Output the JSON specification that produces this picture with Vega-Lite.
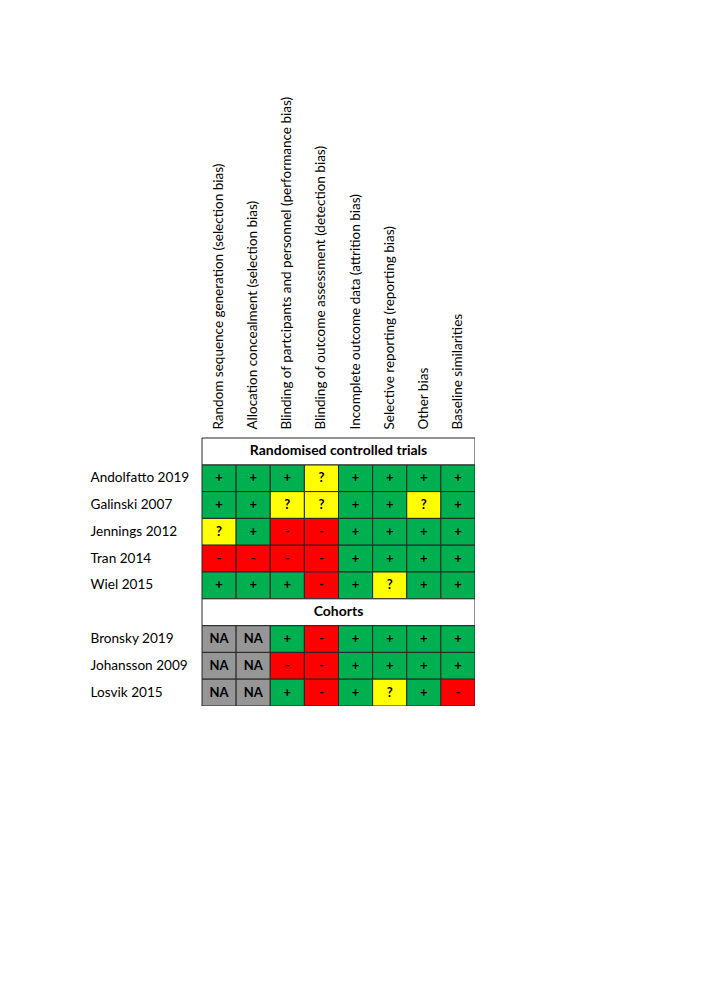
{
  "$schema": "https://vega.github.io/schema/vega-lite/v6.json",
  "width": 273,
  "height": 268,
  "autosize": {"type": "none"},
  "padding": {"left": 202, "top": 438, "right": 0, "bottom": 0},
  "background": "white",
  "config": {"view": {"stroke": null}, "font": "Lato"},
  "datasets": {
    "cells": [
      {"study": "Andolfatto 2019", "domain": "Random sequence generation (selection bias)", "rob": "+"},
      {"study": "Andolfatto 2019", "domain": "Allocation concealment (selection bias)", "rob": "+"},
      {"study": "Andolfatto 2019", "domain": "Blinding of partcipants and personnel (performance bias)", "rob": "+"},
      {"study": "Andolfatto 2019", "domain": "Blinding of outcome assessment (detection bias)", "rob": "?"},
      {"study": "Andolfatto 2019", "domain": "Incomplete outcome data (attrition bias)", "rob": "+"},
      {"study": "Andolfatto 2019", "domain": "Selective reporting (reporting bias)", "rob": "+"},
      {"study": "Andolfatto 2019", "domain": "Other bias", "rob": "+"},
      {"study": "Andolfatto 2019", "domain": "Baseline similarities", "rob": "+"},
      {"study": "Galinski 2007", "domain": "Random sequence generation (selection bias)", "rob": "+"},
      {"study": "Galinski 2007", "domain": "Allocation concealment (selection bias)", "rob": "+"},
      {"study": "Galinski 2007", "domain": "Blinding of partcipants and personnel (performance bias)", "rob": "?"},
      {"study": "Galinski 2007", "domain": "Blinding of outcome assessment (detection bias)", "rob": "?"},
      {"study": "Galinski 2007", "domain": "Incomplete outcome data (attrition bias)", "rob": "+"},
      {"study": "Galinski 2007", "domain": "Selective reporting (reporting bias)", "rob": "+"},
      {"study": "Galinski 2007", "domain": "Other bias", "rob": "?"},
      {"study": "Galinski 2007", "domain": "Baseline similarities", "rob": "+"},
      {"study": "Jennings 2012", "domain": "Random sequence generation (selection bias)", "rob": "?"},
      {"study": "Jennings 2012", "domain": "Allocation concealment (selection bias)", "rob": "+"},
      {"study": "Jennings 2012", "domain": "Blinding of partcipants and personnel (performance bias)", "rob": "-"},
      {"study": "Jennings 2012", "domain": "Blinding of outcome assessment (detection bias)", "rob": "-"},
      {"study": "Jennings 2012", "domain": "Incomplete outcome data (attrition bias)", "rob": "+"},
      {"study": "Jennings 2012", "domain": "Selective reporting (reporting bias)", "rob": "+"},
      {"study": "Jennings 2012", "domain": "Other bias", "rob": "+"},
      {"study": "Jennings 2012", "domain": "Baseline similarities", "rob": "+"},
      {"study": "Tran 2014", "domain": "Random sequence generation (selection bias)", "rob": "-"},
      {"study": "Tran 2014", "domain": "Allocation concealment (selection bias)", "rob": "-"},
      {"study": "Tran 2014", "domain": "Blinding of partcipants and personnel (performance bias)", "rob": "-"},
      {"study": "Tran 2014", "domain": "Blinding of outcome assessment (detection bias)", "rob": "-"},
      {"study": "Tran 2014", "domain": "Incomplete outcome data (attrition bias)", "rob": "+"},
      {"study": "Tran 2014", "domain": "Selective reporting (reporting bias)", "rob": "+"},
      {"study": "Tran 2014", "domain": "Other bias", "rob": "+"},
      {"study": "Tran 2014", "domain": "Baseline similarities", "rob": "+"},
      {"study": "Wiel 2015", "domain": "Random sequence generation (selection bias)", "rob": "+"},
      {"study": "Wiel 2015", "domain": "Allocation concealment (selection bias)", "rob": "+"},
      {"study": "Wiel 2015", "domain": "Blinding of partcipants and personnel (performance bias)", "rob": "+"},
      {"study": "Wiel 2015", "domain": "Blinding of outcome assessment (detection bias)", "rob": "-"},
      {"study": "Wiel 2015", "domain": "Incomplete outcome data (attrition bias)", "rob": "+"},
      {"study": "Wiel 2015", "domain": "Selective reporting (reporting bias)", "rob": "?"},
      {"study": "Wiel 2015", "domain": "Other bias", "rob": "+"},
      {"study": "Wiel 2015", "domain": "Baseline similarities", "rob": "+"},
      {"study": "Bronsky 2019", "domain": "Random sequence generation (selection bias)", "rob": "NA"},
      {"study": "Bronsky 2019", "domain": "Allocation concealment (selection bias)", "rob": "NA"},
      {"study": "Bronsky 2019", "domain": "Blinding of partcipants and personnel (performance bias)", "rob": "+"},
      {"study": "Bronsky 2019", "domain": "Blinding of outcome assessment (detection bias)", "rob": "-"},
      {"study": "Bronsky 2019", "domain": "Incomplete outcome data (attrition bias)", "rob": "+"},
      {"study": "Bronsky 2019", "domain": "Selective reporting (reporting bias)", "rob": "+"},
      {"study": "Bronsky 2019", "domain": "Other bias", "rob": "+"},
      {"study": "Bronsky 2019", "domain": "Baseline similarities", "rob": "+"},
      {"study": "Johansson 2009", "domain": "Random sequence generation (selection bias)", "rob": "NA"},
      {"study": "Johansson 2009", "domain": "Allocation concealment (selection bias)", "rob": "NA"},
      {"study": "Johansson 2009", "domain": "Blinding of partcipants and personnel (performance bias)", "rob": "-"},
      {"study": "Johansson 2009", "domain": "Blinding of outcome assessment (detection bias)", "rob": "-"},
      {"study": "Johansson 2009", "domain": "Incomplete outcome data (attrition bias)", "rob": "+"},
      {"study": "Johansson 2009", "domain": "Selective reporting (reporting bias)", "rob": "+"},
      {"study": "Johansson 2009", "domain": "Other bias", "rob": "+"},
      {"study": "Johansson 2009", "domain": "Baseline similarities", "rob": "+"},
      {"study": "Losvik 2015", "domain": "Random sequence generation (selection bias)", "rob": "NA"},
      {"study": "Losvik 2015", "domain": "Allocation concealment (selection bias)", "rob": "NA"},
      {"study": "Losvik 2015", "domain": "Blinding of partcipants and personnel (performance bias)", "rob": "+"},
      {"study": "Losvik 2015", "domain": "Blinding of outcome assessment (detection bias)", "rob": "-"},
      {"study": "Losvik 2015", "domain": "Incomplete outcome data (attrition bias)", "rob": "+"},
      {"study": "Losvik 2015", "domain": "Selective reporting (reporting bias)", "rob": "?"},
      {"study": "Losvik 2015", "domain": "Other bias", "rob": "+"},
      {"study": "Losvik 2015", "domain": "Baseline similarities", "rob": "-"}
    ],
    "groups": [
      {"study": "Randomised controlled trials"},
      {"study": "Cohorts"}
    ]
  },
  "layer": [
    {
      "data": {"name": "cells"},
      "mark": {"type": "rect", "stroke": "#262626", "strokeWidth": 1},
      "encoding": {
        "x": {
          "field": "domain", "type": "nominal",
          "sort": null,
          "scale": {"paddingInner": 0, "paddingOuter": 0},
          "axis": {
            "orient": "top", "title": null, "ticks": false, "domain": false,
            "labelAngle": -90, "labelAlign": "left", "labelBaseline": "middle",
            "labelPadding": 9, "labelLimit": 500, "labelFontSize": 13.5,
            "labelColor": "#000000", "labelFont": "Lato"
          }
        },
        "y": {
          "field": "study", "type": "nominal",
          "scale": {
            "domain": ["Randomised controlled trials", "Andolfatto 2019", "Galinski 2007", "Jennings 2012", "Tran 2014", "Wiel 2015", "Cohorts", "Bronsky 2019", "Johansson 2009", "Losvik 2015"],
            "paddingInner": 0, "paddingOuter": 0
          },
          "axis": {
            "orient": "left", "title": null, "ticks": false, "domain": false,
            "labelAlign": "left", "labelBaseline": "middle", "labelPadding": 112,
            "labelLimit": 300, "labelFontSize": 13.6, "labelColor": "#000000", "labelFont": "Lato",
            "labelExpr": "datum.value == 'Randomised controlled trials' || datum.value == 'Cohorts' ? '' : datum.value"
          }
        },
        "color": {
          "field": "rob", "type": "nominal",
          "scale": {"domain": ["+", "?", "-", "NA"], "range": ["#00B050", "#FFFF00", "#FF0000", "#969696"]},
          "legend": null
        }
      }
    },
    {
      "data": {"name": "cells"},
      "mark": {"type": "text", "fontWeight": "bold", "fontSize": 13, "color": "#000000", "font": "Lato"},
      "encoding": {
        "x": {"field": "domain", "type": "nominal", "sort": null},
        "y": {"field": "study", "type": "nominal"},
        "text": {"field": "rob", "type": "nominal"}
      }
    },
    {
      "data": {"name": "groups"},
      "mark": {"type": "rect", "fill": "#ffffff", "stroke": "#262626", "strokeWidth": 1},
      "encoding": {
        "y": {"field": "study", "type": "nominal"}
      }
    },
    {
      "data": {"name": "groups"},
      "mark": {"type": "text", "fontWeight": "bold", "fontSize": 14, "color": "#000000", "font": "Lato"},
      "encoding": {
        "y": {"field": "study", "type": "nominal"},
        "text": {"field": "study", "type": "nominal"}
      }
    }
  ]
}
